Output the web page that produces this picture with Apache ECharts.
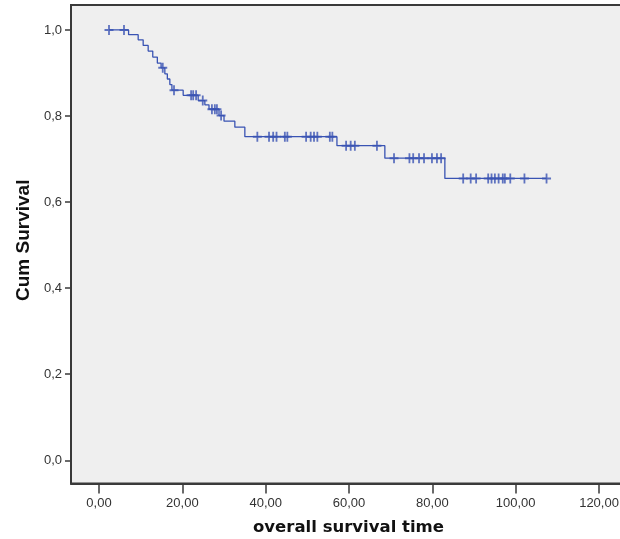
<!DOCTYPE html>
<html>
<head>
<meta charset="utf-8">
<script src="https://cdn.jsdelivr.net/npm/echarts@6/dist/echarts.min.js"></script>
<style>
  html, body { margin: 0; padding: 0; background: #fff; overflow: hidden; }
  #chart { width: 640px; height: 539px; }
</style>
</head>
<body>
<div id="chart"></div>
<script>
// Kaplan-Meier curve, values
const startTime = 2.4;
const eventTimes = [7.1, 9.4, 10.6, 11.8, 12.9, 14.0, 14.9, 15.8, 16.4, 17.0, 17.5, 20.2,
  23.8, 25.4, 26.4, 28.8, 30.0, 32.6, 35.0, 57.1, 68.6, 83.0];
const survAfter = [0.989, 0.977, 0.964, 0.951, 0.937, 0.923, 0.912, 0.898, 0.886, 0.873, 0.860, 0.848,
  0.836, 0.826, 0.816, 0.801, 0.788, 0.774, 0.752, 0.731, 0.702, 0.655];
const censorTimes = [2.4, 6.0, 15.3, 18.0, 22.1, 22.6, 23.3, 24.9, 27.1, 27.8, 28.3, 29.3,
  38.0, 40.8, 41.8, 42.6, 44.6, 45.2, 49.7, 50.8, 51.6, 52.4, 55.4, 56.0,
  59.3, 60.4, 61.4, 66.7, 70.8, 74.5, 75.4, 76.8, 78.0, 79.9, 81.1, 82.1,
  87.4, 89.2, 90.5, 93.4, 94.2, 95.0, 95.9, 96.9, 97.4, 98.7, 102.1, 107.4];
const xTicks = [0, 20, 40, 60, 80, 100, 120];
const yTicks = [0, 0.2, 0.4, 0.6, 0.8, 1.0];

function survAt(t) {
  let s = 1;
  for (let i = 0; i < eventTimes.length; i++) {
    if (eventTimes[i] <= t) s = survAfter[i];
  }
  return s;
}

const lastTime = censorTimes[censorTimes.length - 1];
const curve = [[startTime, 1]];
eventTimes.forEach((t, i) => curve.push([t, survAfter[i]]));
curve.push([lastTime, survAfter[survAfter.length - 1]]);
const censored = censorTimes.map(t => [t, survAt(t)]);

const blue = '#3953b3';
const axisCol = '#3a3a3a';
const plus = 'path://M2.4,0 h1.2 v2.4 h2.4 v1.2 h-2.4 v2.4 h-1.2 v-2.4 h-2.4 v-1.2 h2.4 z';

// the div is wider than the window so the plot runs past the right edge, as in the reference crop
const chart = echarts.init(document.getElementById('chart'));
chart.setOption({
  animation: false,
  grid: {
    left: 71, right: 0, top: 5, bottom: 55.5,
    outerBoundsMode: 'none',
    show: true, backgroundColor: '#efefef',
    borderColor: axisCol, borderWidth: 2
  },
  xAxis: {
    type: 'value',
    min: -6.72, max: 129.83,
    name: 'overall survival time',
    nameLocation: 'middle',
    nameGap: 36,
    nameTextStyle: { fontFamily: 'DejaVu Sans', fontWeight: 'bold', fontSize: 16.5, color: '#111',
      padding: [0, 14, 0, 0] },
    axisLine: { show: true, onZero: false, lineStyle: { color: axisCol, width: 2 } },
    axisTick: { show: true, customValues: xTicks, length: 10, lineStyle: { color: axisCol, width: 1.5 } },
    axisLabel: {
      customValues: xTicks, margin: 13,
      fontFamily: 'Liberation Sans', fontSize: 13, color: '#333',
      formatter: v => v.toFixed(2).replace('.', ',')
    },
    splitLine: { show: false }
  },
  yAxis: {
    type: 'value',
    min: -0.054, max: 1.058,
    name: 'Cum Survival',
    nameLocation: 'middle',
    nameGap: 35,
    nameTextStyle: { fontFamily: 'Liberation Sans', fontWeight: 'bold', fontSize: 19, color: '#111',
      padding: [0, 0, 0, 8] },
    axisLine: { show: true, onZero: false, lineStyle: { color: axisCol, width: 1.5 } },
    axisTick: { show: true, customValues: yTicks, length: 6, lineStyle: { color: axisCol, width: 1.5 } },
    axisLabel: {
      customValues: yTicks, margin: 9,
      fontFamily: 'Liberation Sans', fontSize: 13, color: '#333',
      formatter: v => v.toFixed(1).replace('.', ',')
    },
    splitLine: { show: false }
  },
  series: [
    {
      type: 'line',
      step: 'end',
      data: curve,
      showSymbol: false,
      lineStyle: { color: blue, width: 1.3 },
      silent: true
    },
    {
      type: 'scatter',
      data: censored,
      symbol: plus,
      symbolSize: [9, 10],
      symbolKeepAspect: false,
      itemStyle: { color: blue },
      silent: true
    }
  ]
});
</script>
</body>
</html>
